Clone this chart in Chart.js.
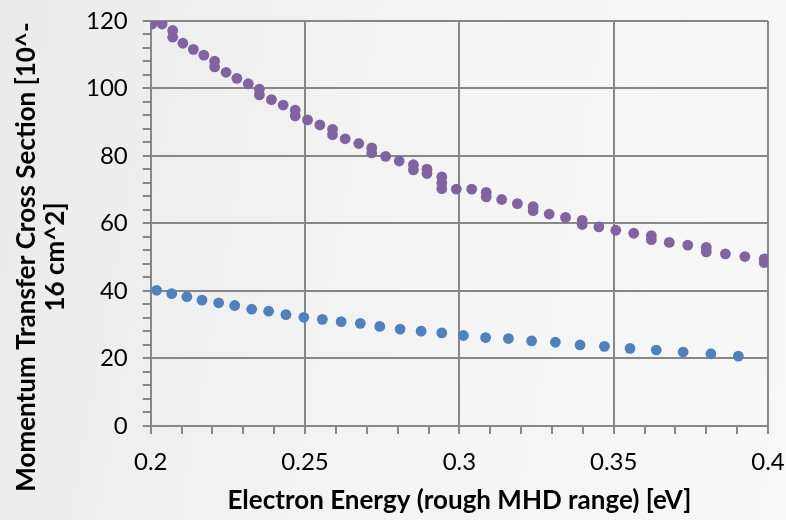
<!DOCTYPE html>
<html>
<head>
<meta charset="utf-8">
<script src="https://cdn.jsdelivr.net/npm/chart.js@4/dist/chart.umd.min.js"></script>
<style>
  html, body { margin: 0; padding: 0; }
  body {
    width: 786px; height: 520px; overflow: hidden;
    background: linear-gradient(100deg, #eaeaea 0%, #f3f3f3 45%, #f8f8f8 100%);
  }
  #wrap { position: relative; width: 786px; height: 520px; }
</style>
</head>
<body>
<div id="wrap"><canvas id="chart" width="786" height="520"></canvas></div>
<script>
// upper curve (purple)
let upperEnergy = [0.2004, 0.2037, 0.2071, 0.2071, 0.2104, 0.2138, 0.2172, 0.2207, 0.2207,
    0.2244, 0.2279, 0.2316, 0.2352, 0.2352, 0.2391, 0.2429, 0.2468, 0.2468, 0.2508, 0.2548,
    0.2589, 0.2589, 0.2630, 0.2674, 0.2716, 0.2716, 0.2761, 0.2805, 0.2851, 0.2851, 0.2895,
    0.2895, 0.2943, 0.2943, 0.2943, 0.2990, 0.3040, 0.3087, 0.3087, 0.3137, 0.3188, 0.3239,
    0.3239, 0.3291, 0.3344, 0.3398, 0.3398, 0.3452, 0.3507, 0.3565, 0.3622, 0.3622, 0.3680,
    0.3740, 0.3800, 0.3800, 0.3862, 0.3925, 0.3988, 0.3988]
let upperSigma = [119.1, 119.1, 117.2, 115.2, 113.4, 111.6, 109.9, 108.1, 106.4,
    104.8, 103.0, 101.4, 99.8, 98.1, 96.7, 95.1, 93.6, 91.9, 90.7, 89.2,
    87.9, 86.3, 85.1, 83.7, 82.4, 80.9, 79.9, 78.5, 77.4, 75.9, 76.1,
    74.8, 73.8, 72.0, 70.3, 70.2, 70.2, 69.2, 67.9, 67.1, 65.9, 65.0,
    63.8, 62.8, 61.8, 60.9, 59.7, 59.0, 58.0, 57.1, 56.4, 55.2, 54.4,
    53.6, 52.9, 51.6, 51.0, 50.2, 49.5, 48.4]

// lower curve (blue)
let lowerEnergy = [0.2019, 0.2068, 0.2117, 0.2166, 0.2220, 0.2272, 0.2327, 0.2382, 0.2438,
    0.2496, 0.2556, 0.2617, 0.2679, 0.2742, 0.2808, 0.2876, 0.2943, 0.3013, 0.3085, 0.3159,
    0.3234, 0.3311, 0.3391, 0.3470, 0.3553, 0.3638, 0.3725, 0.3815, 0.3904]
let lowerSigma = [40.2, 39.2, 38.3, 37.3, 36.5, 35.7, 34.6, 34.0, 33.0,
    32.2, 31.6, 30.9, 30.4, 29.5, 28.7, 28.1, 27.6, 26.8, 26.2, 25.9,
    25.2, 24.8, 24.0, 23.6, 23.0, 22.5, 21.9, 21.4, 20.7]

let xTitle = 'Electron Energy (rough MHD range) [eV]'
let yTitle = ['Momentum Transfer Cross Section [10^-', '16 cm^2]']

let gridGray = '#878787'
let font = 'Lato, "Open Sans", sans-serif'

function toPoints(xs, ys) {
    return xs.map((x, i) => ({x: x, y: ys[i]}))
}

// every step gets a tick mark, only the labelled ones get a grid line
function isMajorX(v) { return Math.round(v * 100) % 5 === 0 }
function isMajorY(v) { return Math.round(v) % 20 === 0 }

// the y title is longer than the axis, so it is drawn by hand a bit lower than the axis middle
let yTitlePlugin = {
    id: 'yTitle',
    afterDraw(chart) {
        let c = chart.ctx
        c.save()
        c.translate(27, 257)
        c.rotate(-Math.PI / 2)
        c.font = 'bold 26px ' + font
        c.fillStyle = '#000'
        c.textAlign = 'center'
        c.textBaseline = 'middle'
        yTitle.forEach((line, i) => c.fillText(line, 0, i * 29))
        c.restore()
    }
}

let ctx = document.getElementById('chart')
new Chart(ctx, {
    type: 'scatter',
    data: {
        datasets: [{
            data: toPoints(upperEnergy, upperSigma),
            backgroundColor: '#8064a2',
            borderColor: '#8064a2',
            pointRadius: 5.4,
            borderWidth: 0
        }, {
            data: toPoints(lowerEnergy, lowerSigma),
            backgroundColor: '#4f81bd',
            borderColor: '#4f81bd',
            pointRadius: 5.4,
            borderWidth: 0
        }]
    },
    plugins: [yTitlePlugin],
    options: {
        responsive: false,
        animation: false,
        devicePixelRatio: 1,
        layout: {padding: {top: 2, right: 2, left: 71, bottom: 10}},
        plugins: {legend: {display: false}, tooltip: {enabled: false}},
        scales: {
            x: {
                type: 'linear',
                min: 0.2,
                max: 0.4,
                // "0.4" may hang over the right edge a little
                afterFit: s => { s.paddingRight = 18 },
                border: {color: gridGray, width: 2},
                grid: {
                    color: c => isMajorX(c.tick.value) ? gridGray : 'rgba(0,0,0,0)',
                    tickColor: gridGray,
                    lineWidth: 2,
                    tickLength: 8
                },
                ticks: {
                    stepSize: 0.01,
                    autoSkip: false,
                    maxRotation: 0,
                    color: '#000',
                    font: {family: font, size: 24},
                    padding: 14,
                    callback: v => isMajorX(v) ? String(Math.round(v * 100) / 100) : ''
                },
                title: {
                    display: true,
                    text: xTitle,
                    color: '#000',
                    font: {family: font, size: 26, weight: 'bold', lineHeight: 0.74},
                    padding: {top: 0, bottom: 0}
                }
            },
            y: {
                min: 0,
                max: 120,
                border: {color: gridGray, width: 2},
                grid: {
                    color: c => isMajorY(c.tick.value) ? gridGray : 'rgba(0,0,0,0)',
                    tickColor: gridGray,
                    lineWidth: 2,
                    tickLength: 8
                },
                ticks: {
                    stepSize: 4,
                    autoSkip: false,
                    color: '#000',
                    font: {family: font, size: 24, lineHeight: 0.5},
                    padding: 15,
                    callback: v => isMajorY(v) ? String(v) : ''
                }
            }
        }
    }
})
</script>
</body>
</html>
